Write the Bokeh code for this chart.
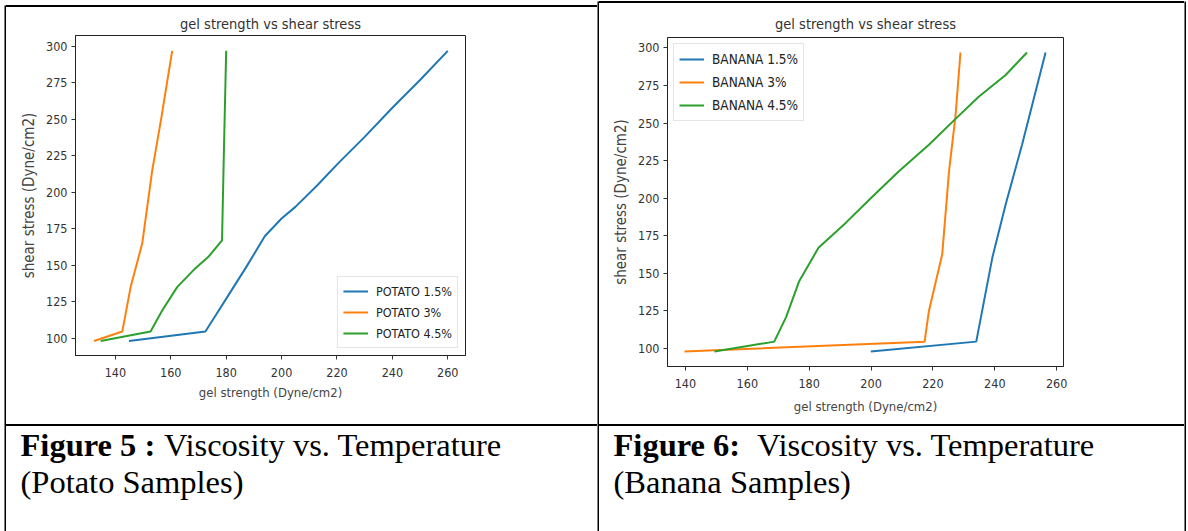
from bokeh.plotting import figure
from bokeh.layouts import row, column
from bokeh.models import Range1d, FixedTicker, Div
from bokeh.core.properties import value
from bokeh.embed import file_html
from bokeh.resources import INLINE

# ---------------- data ----------------
chart_title = "gel strength vs shear stress"
x_label = "gel strength (Dyne/cm2)"
y_label = "shear stress (Dyne/cm2)"
x_ticks = [140, 160, 180, 200, 220, 240, 260]
y_ticks = [100, 125, 150, 175, 200, 225, 250, 275, 300]

potato_labels = ["POTATO 1.5%", "POTATO 3%", "POTATO 4.5%"]
potato_15_x = [144.9, 172.5, 176.0, 181.0, 187.0, 194.0, 200.0, 205.0, 213.0, 220.5, 230.0, 240.0, 250.0, 260.0]
potato_15_y = [98.0, 104.6, 115.0, 130.0, 148.0, 170.0, 182.0, 190.0, 205.0, 220.0, 238.0, 258.0, 277.0, 297.0]
potato_3_x = [132.3, 142.5, 145.5, 149.7, 153.3, 156.5, 160.5]
potato_3_y = [98.0, 104.6, 135.0, 165.0, 215.0, 250.0, 297.0]
potato_45_x = [134.7, 152.7, 156.9, 162.3, 168.9, 173.7, 178.5, 179.2, 180.0]
potato_45_y = [98.0, 104.6, 119.0, 135.0, 148.0, 156.0, 167.0, 230.0, 297.0]

banana_labels = ["BANANA 1.5%", "BANANA 3%", "BANANA 4.5%"]
banana_15_x = [199.9, 234.0, 239.2, 243.5, 248.8, 256.4]
banana_15_y = [98.0, 104.6, 160.5, 195.8, 235.6, 297.0]
banana_3_x = [139.7, 217.3, 218.7, 223.0, 225.2, 227.3, 228.9]
banana_3_y = [98.0, 104.6, 125.0, 162.7, 218.0, 255.0, 297.0]
banana_45_x = [149.4, 168.7, 172.5, 176.8, 183.0, 191.8, 200.4, 209.0, 218.7, 227.3, 234.8, 243.5, 250.4]
banana_45_y = [98.0, 104.6, 120.7, 145.0, 167.0, 183.6, 201.0, 218.0, 235.6, 252.8, 267.5, 282.0, 297.0]

caption5_bold = "Figure 5 :"
caption5_rest = "Viscosity vs. Temperature"
caption5_line2 = "(Potato Samples)"
caption6_bold = "Figure 6:"
caption6_rest = "Viscosity vs. Temperature"
caption6_line2 = "(Banana Samples)"

colors = ["#1f77b4", "#ff7f0e", "#2ca02c"]
SANS = "DejaVu Sans Condensed"
SERIF = "Liberation Serif"


def block(w, h, color):
    f = figure(width=w, height=h, toolbar_location=None, output_backend="svg",
               x_axis_location=None, y_axis_location=None, min_border=0,
               outline_line_color=None, background_fill_color=color,
               border_fill_color=color, title=None)
    f.grid.visible = False
    f.frame_align = False
    return f


def hline(w, h, color):
    return Div(text="", width=w, height=h, margin=0,
               styles={"background-color": color})


def chart(w, h, xr, yr, borders, series, labels, loc, margin, lab_h, lab_font, pad,
          title_standoff, xlab_standoff):
    p = figure(width=w, height=h, x_range=Range1d(*xr), y_range=Range1d(*yr),
               toolbar_location=None, output_backend="svg",
               min_border_left=borders[0], min_border_right=borders[1],
               min_border_top=borders[2], min_border_bottom=borders[3],
               title=chart_title, x_axis_label=x_label, y_axis_label=y_label)
    p.frame_align = False
    p.title.align = "center"
    p.title.text_font = SANS
    p.title.text_font_size = "14.5px"
    p.title.text_font_style = "normal"
    p.title.text_color = "#333333"
    p.title.standoff = title_standoff
    p.grid.visible = False
    p.outline_line_color = "#222222"
    p.outline_line_width = 1
    p.xaxis.ticker = FixedTicker(ticks=x_ticks)
    p.yaxis.ticker = FixedTicker(ticks=y_ticks)
    for ax in (p.xaxis, p.yaxis):
        ax.minor_tick_line_color = None
        ax.major_tick_in = 0
        ax.major_tick_out = 4
        ax.major_tick_line_color = "#333333"
        ax.axis_line_color = "#222222"
        ax.major_label_text_font = SANS
        ax.major_label_text_font_size = "12.5px"
        ax.major_label_text_color = "#333333"
        ax.axis_label_text_font = SANS
        ax.axis_label_text_font_style = "normal"
        ax.axis_label_text_color = "#444444"
        ax.major_label_standoff = 4
    p.xaxis.major_label_standoff = 8
    p.xaxis.axis_label_standoff = xlab_standoff
    p.yaxis.axis_label_standoff = 5
    p.xaxis.axis_label_text_font_size = "13px"
    p.yaxis.axis_label_text_font_size = "15px"
    for (xs, ys), lab, c in zip(series, labels, colors):
        p.line(xs, ys, line_color=c, line_width=2, legend_label=lab)
    lg = p.legend[0]
    lg.location = loc
    lg.margin = margin
    lg.padding = pad
    lg.spacing = 3
    lg.label_height = lab_h
    lg.glyph_height = lab_h
    lg.glyph_width = 25
    lg.label_standoff = 8
    lg.label_text_font = SANS
    lg.label_text_font_size = lab_font
    lg.label_text_color = "#222222"
    lg.border_line_color = "#cccccc"
    lg.background_fill_alpha = 0.85
    return p


def caption(w, h, x0, x1, y0, y1, x_txt, x_rest, base1, base2, bold, rest, line2):
    f = figure(width=w, height=h, toolbar_location=None, output_backend="svg",
               x_axis_location=None, y_axis_location=None, min_border=0,
               outline_line_color=None, title=None,
               x_range=Range1d(x0, x1), y_range=Range1d(y1, y0))
    f.frame_align = False
    f.grid.visible = False
    common = dict(text_font=value(SERIF), text_font_size="32.5px", text_color="#000000",
                  text_baseline="alphabetic", text_align="left")
    f.text(x=[x_txt], y=[base1], text=[bold], text_font_style="bold", **common)
    f.text(x=[x_rest], y=[base1], text=[rest], **common)
    f.text(x=[x_txt], y=[base2], text=[line2], **common)
    return f


left_chart = chart(591, 417, (125.6, 266.4), (88.1, 307.5), (69, 132, 28, 69),
                   [(potato_15_x, potato_15_y), (potato_3_x, potato_3_y), (potato_45_x, potato_45_y)],
                   potato_labels, "bottom_right", 7, 18, "12.5px", 5, 8, 5)
right_chart = chart(585, 421, (134.2, 262.2), (88.05, 306.95), (68, 121, 34, 58),
                    [(banana_15_x, banana_15_y), (banana_3_x, banana_3_y), (banana_45_x, banana_45_y)],
                    banana_labels, "top_left", 6, 20, "13.5px", 5, 11, 8)

left_cap = caption(591, 105, 6, 597, 426, 531, 20, 163.5, 444, 481,
                   caption5_bold, caption5_rest, caption5_line2)
right_cap = caption(585, 105, 599, 1184, 426, 531, 613, 756.5, 444, 481,
                    caption6_bold, caption6_rest, caption6_line2)

left_border = column(block(2, 5, "white"), block(2, 526, "black"))
left_cell = column(hline(591, 5, "white"), hline(591, 2, "black"), left_chart,
                   hline(591, 2, "black"), left_cap)
mid_border = column(block(2, 1, "white"), block(2, 530, "black"))
right_cell = column(hline(585, 1, "white"), hline(585, 2, "black"), right_chart,
                    hline(585, 2, "black"), right_cap)
right_border = column(block(2, 1, "white"), block(2, 530, "black"))

page = row(block(4, 531, "white"), left_border, left_cell, mid_border, right_cell,
           right_border, block(2, 531, "white"))

open("out.html", "w").write(file_html(page, INLINE))
